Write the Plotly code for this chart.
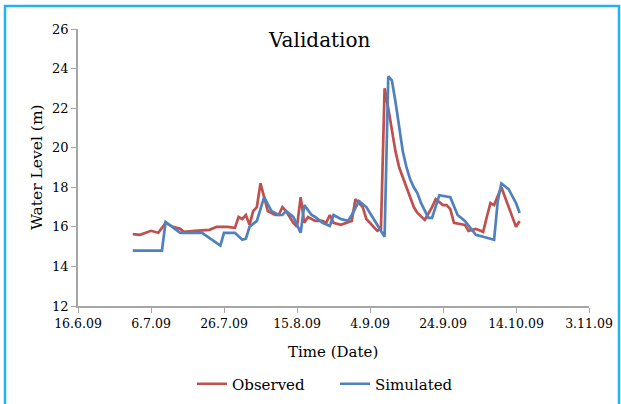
import plotly.graph_objects as go

# ---- data ----
obs_dates = ["2009-07-01","2009-07-03","2009-07-06","2009-07-08","2009-07-10","2009-07-12",
             "2009-07-14","2009-07-15","2009-07-18","2009-07-22","2009-07-24","2009-07-27",
             "2009-07-29","2009-07-30","2009-07-31","2009-08-01","2009-08-02","2009-08-03",
             "2009-08-04","2009-08-05","2009-08-06","2009-08-07","2009-08-09","2009-08-10",
             "2009-08-11","2009-08-12","2009-08-14","2009-08-15","2009-08-16","2009-08-17",
             "2009-08-18","2009-08-20","2009-08-22","2009-08-23","2009-08-24","2009-08-25",
             "2009-08-27","2009-08-30","2009-08-31","2009-09-02","2009-09-03","2009-09-05",
             "2009-09-06","2009-09-07","2009-09-08","2009-09-09","2009-09-10","2009-09-11",
             "2009-09-12","2009-09-13","2009-09-14","2009-09-15","2009-09-16","2009-09-17",
             "2009-09-18","2009-09-19","2009-09-21","2009-09-22","2009-09-24","2009-09-25",
             "2009-09-26","2009-09-27","2009-09-30","2009-10-01","2009-10-03","2009-10-05",
             "2009-10-06","2009-10-07","2009-10-08","2009-10-10","2009-10-11","2009-10-12",
             "2009-10-14","2009-10-15"]
obs_values = [15.63,15.6,15.8,15.7,16.2,16.0,
              15.9,15.75,15.8,15.85,16.0,16.0,
              15.95,16.5,16.4,16.6,16.1,16.8,
              17.0,18.2,17.5,16.8,16.6,16.6,
              17.0,16.8,16.2,16.0,17.5,16.2,
              16.5,16.3,16.3,16.2,16.6,16.2,
              16.1,16.3,17.4,17.0,16.4,16.0,
              15.8,15.9,23.0,22.0,20.8,19.8,
              19.0,18.5,18.0,17.6,17.0,16.7,
              16.5,16.35,17.0,17.4,17.1,17.1,
              16.9,16.2,16.1,15.8,15.9,15.75,
              16.5,17.2,17.1,18.0,17.5,17.0,
              16.0,16.3]

sim_dates = ["2009-07-01","2009-07-09","2009-07-10","2009-07-14","2009-07-20","2009-07-25",
             "2009-07-26","2009-07-29","2009-07-31","2009-08-01","2009-08-02","2009-08-04",
             "2009-08-06","2009-08-08","2009-08-10","2009-08-11","2009-08-12","2009-08-14",
             "2009-08-16","2009-08-17","2009-08-19","2009-08-20","2009-08-22","2009-08-24",
             "2009-08-25","2009-08-27","2009-08-29","2009-08-30","2009-09-01","2009-09-03",
             "2009-09-05","2009-09-08","2009-09-09","2009-09-10","2009-09-11","2009-09-12",
             "2009-09-13","2009-09-14","2009-09-15","2009-09-16","2009-09-17","2009-09-18",
             "2009-09-19","2009-09-20","2009-09-21","2009-09-22","2009-09-23","2009-09-26",
             "2009-09-28","2009-09-30","2009-10-03","2009-10-05","2009-10-07","2009-10-08",
             "2009-10-09","2009-10-10","2009-10-12","2009-10-14","2009-10-15"]
sim_values = [14.8,14.8,16.25,15.7,15.7,15.05,
              15.7,15.7,15.35,15.4,16.0,16.3,
              17.5,16.8,16.6,16.6,16.8,16.5,
              15.7,17.1,16.6,16.5,16.2,16.05,
              16.6,16.4,16.3,16.6,17.3,17.0,
              16.4,15.5,23.6,23.4,22.3,21.0,
              19.8,19.0,18.4,18.0,17.7,17.2,
              16.8,16.45,16.45,17.0,17.6,17.5,
              16.6,16.3,15.6,15.5,15.4,15.35,
              17.3,18.2,17.9,17.2,16.7]

tick_dates = ["2009-06-16","2009-07-06","2009-07-26","2009-08-15","2009-09-04",
              "2009-09-24","2009-10-14","2009-11-03"]
tick_labels = ["16.6.09","6.7.09","26.7.09","15.8.09","4.9.09","24.9.09","14.10.09","3.11.09"]

# ---- layout geometry (pixels) ----
W, H = 621, 404
ML, MR, MT, MB = 78, 32, 29, 98
PW, PH = W - ML - MR, H - MT - MB

def px(x):
    return (x - ML) / PW

def py(y):
    return (H - MB - y) / PH

FONT = "DejaVu Serif"

fig = go.Figure()
fig.add_trace(go.Scatter(x=obs_dates, y=obs_values, mode="lines", name="Observed",
                         line=dict(color="#C0504D", width=2.7)))
fig.add_trace(go.Scatter(x=sim_dates, y=sim_values, mode="lines", name="Simulated",
                         line=dict(color="#4F81BD", width=2.7)))

fig.update_layout(
    width=W, height=H,
    margin=dict(l=ML, r=MR, t=MT, b=MB, autoexpand=False),
    paper_bgcolor="white", plot_bgcolor="white",
    font=dict(family=FONT, color="black", size=13),
    showlegend=True,
    legend=dict(orientation="h", x=px(192), y=py(384), xanchor="left", yanchor="middle",
                font=dict(size=15, family=FONT), tracegroupgap=0,
                entrywidth=98, entrywidthmode="pixels",
                bgcolor="rgba(0,0,0,0)"),
    xaxis=dict(range=["2009-06-16", "2009-11-03"], tickmode="array",
               tickvals=tick_dates, ticktext=tick_labels,
               showline=True, linecolor="#a6a6a6", linewidth=1.5,
               ticks="outside", ticklen=5, tickcolor="#a6a6a6",
               showgrid=False, zeroline=False, automargin=False,
               tickfont=dict(size=12.5, family=FONT)),
    yaxis=dict(range=[12, 26], dtick=2, tick0=12,
               showline=True, linecolor="#a6a6a6", linewidth=1.5,
               ticks="outside", ticklen=5, tickcolor="#a6a6a6",
               showgrid=False, zeroline=False, automargin=False,
               tickfont=dict(size=13, family=FONT)),
)

fig.add_annotation(text="Validation", xref="paper", yref="paper",
                   x=px(319), y=py(40), xanchor="center", yanchor="middle",
                   showarrow=False, font=dict(size=20, family=FONT, color="black"))
fig.add_annotation(text="Time (Date)", xref="paper", yref="paper",
                   x=px(333), y=py(352), xanchor="center", yanchor="middle",
                   showarrow=False, font=dict(size=15, family=FONT, color="black"))
fig.add_annotation(text="Water Level (m)", xref="paper", yref="paper",
                   x=px(37), y=py(167), xanchor="center", yanchor="middle", textangle=-90,
                   showarrow=False, font=dict(size=15.5, family=FONT, color="black"))

# frame around the chart
fig.add_shape(type="rect", xref="paper", yref="paper",
              x0=px(5), x1=px(619), y0=py(420), y1=py(6),
              line=dict(color="#1EB4F0", width=2.5), fillcolor="rgba(0,0,0,0)", layer="above")

fig.write_html("out.html")
